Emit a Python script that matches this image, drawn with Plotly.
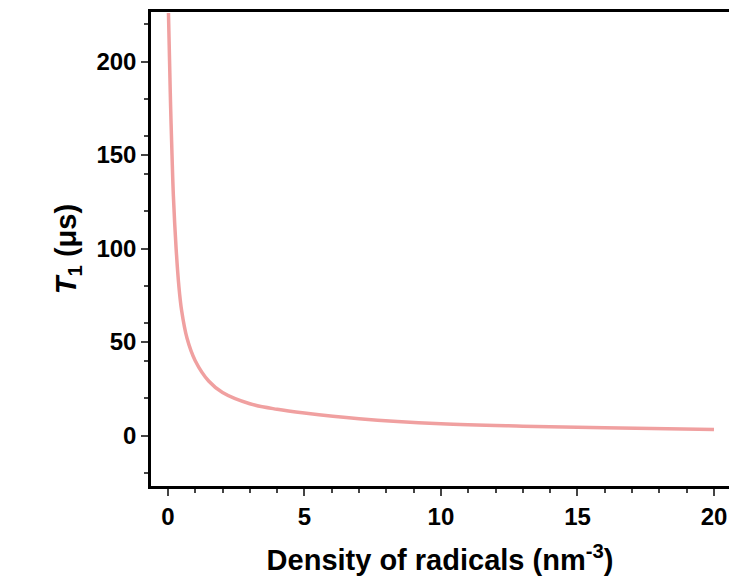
import plotly.graph_objects as go

density = [0.02, 0.06, 0.1, 0.15, 0.2, 0.3, 0.4, 0.5, 0.7, 1.0, 1.5, 2.0, 3.0, 4.0, 5.0, 7.0, 10.0, 13.0, 16.0, 20.0]
t1 = [226, 200, 175, 150, 128, 100, 80, 67, 52, 40, 29, 23, 17, 14, 12, 9, 6.3, 5.0, 4.1, 3.2]

fig = go.Figure()
fig.add_trace(go.Scatter(x=density, y=t1, mode='lines', line=dict(color='#F0A0A0', width=3.5, shape='spline')))

font = dict(family='Liberation Sans', size=24, color='black')
axis = dict(showline=True, linewidth=2.5, linecolor='black', mirror=True, ticks='outside',
            ticklen=7, tickwidth=2, showgrid=False, zeroline=False,
            minor=dict(ticks='outside', ticklen=4, tickwidth=2))
fig.update_layout(
    width=737, height=588, plot_bgcolor='white', paper_bgcolor='white',
    margin=dict(l=143, r=16, t=1, b=110), showlegend=False,
    font=font,
    xaxis=dict(axis, range=[-0.62, 20.55], tickvals=[0, 5, 10, 15, 20],
               ticktext=['<b>%d</b>' % v for v in [0, 5, 10, 15, 20]],
               title=dict(text='<b>Density of radicals (nm<sup>-3</sup>)</b>', font=dict(size=29), standoff=22)),
    yaxis=dict(axis, range=[-27, 226.5], tickvals=[0, 50, 100, 150, 200],
               ticktext=['<b>%d</b>' % v for v in [0, 50, 100, 150, 200]],
               title=dict(text='<b><i>T</i><sub>1</sub> (μs)</b>', font=dict(size=29), standoff=12)),
)
fig.write_html("out.html")
